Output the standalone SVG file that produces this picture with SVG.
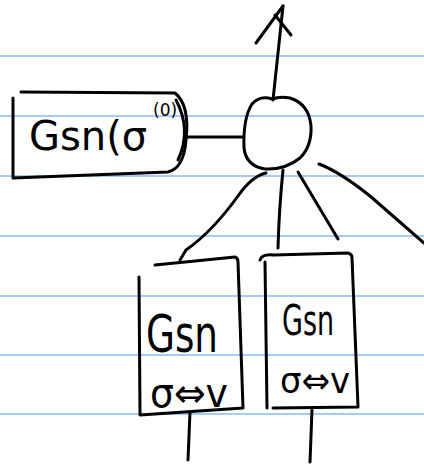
<svg xmlns="http://www.w3.org/2000/svg" width="424" height="465" viewBox="0 0 424 465">
<style>
.rule{stroke:#a3cdf6;stroke-width:2}
.ink{fill:none;stroke:#000;stroke-width:3;stroke-linecap:round;stroke-linejoin:round}
.t{font-family:"DejaVu Sans","Liberation Sans",sans-serif;fill:#000}
</style>
<rect width="424" height="465" fill="#fff"/>
<g id="paper">
<line class="rule" x1="0" y1="56" x2="424" y2="56"/>
<line class="rule" x1="0" y1="116" x2="424" y2="116"/>
<line class="rule" x1="0" y1="176" x2="424" y2="176"/>
<line class="rule" x1="0" y1="236" x2="424" y2="236"/>
<line class="rule" x1="0" y1="296" x2="424" y2="296"/>
<line class="rule" x1="0" y1="355" x2="424" y2="355"/>
<line class="rule" x1="0" y1="414" x2="424" y2="414"/>
</g>
<g id="connectors">
<path class="ink" d="M185 137 L243 137"/>
<path class="ink" d="M273 100 L283 6"/>
<path class="ink" d="M283 6 L256 43"/>
<path class="ink" d="M275 15 L291 35"/>
<path class="ink" d="M266 173 Q252 176 238 196 Q212 232 186 250 L180 260"/>
<path class="ink" d="M283 170 Q279 210 278 248"/>
<path class="ink" d="M298 172 L338 239"/>
<path class="ink" d="M319 164 Q340 172 370 196 Q400 222 424 243"/>
<path class="ink" d="M190 412 L188 460"/>
<path class="ink" d="M312 410 L310 462"/>
</g>
<g id="output-node">
<path class="ink" d="M272 99 Q260 95 252 104 Q243 118 244 148 Q246 166 265 169 Q285 170 300 158 Q312 146 311 126 Q309 104 290 98 Q280 96 272 99 Z"/>
</g>
<g id="gsn-sigma0">
<path class="ink" d="M21 92 L175 93 Q190 105 186 140 Q184 168 168 172 L13 178 M13 98 L13 178"/>
<path class="ink" d="M176 100 Q192 130 178 160"/>
<text class="t" x="29" y="150" font-size="40">Gsn(σ</text>
<text class="t" x="153" y="116" font-size="17">(0)</text>
</g>
<g id="gsn-box-1">
<path class="ink" d="M155 265 L235 257 Q238 258 238 262 L243 408 L140 415 M139 277 L140 415"/>
<text class="t" x="146" y="352" font-size="52" textLength="72" lengthAdjust="spacingAndGlyphs">Gsn</text>
<text class="t" x="150" y="407" font-size="40" textLength="78" lengthAdjust="spacingAndGlyphs">σ⇔v</text>
</g>
<g id="gsn-box-2">
<path class="ink" d="M260 260 Q262 254 273 255 L348 253 Q352 254 352 258 L358 407 L273 408 M265 262 L267 408"/>
<text class="t" x="282" y="335" font-size="42" textLength="52" lengthAdjust="spacingAndGlyphs">Gsn</text>
<text class="t" x="280" y="393" font-size="36" textLength="70" lengthAdjust="spacingAndGlyphs">σ⇔v</text>
</g>
</svg>
